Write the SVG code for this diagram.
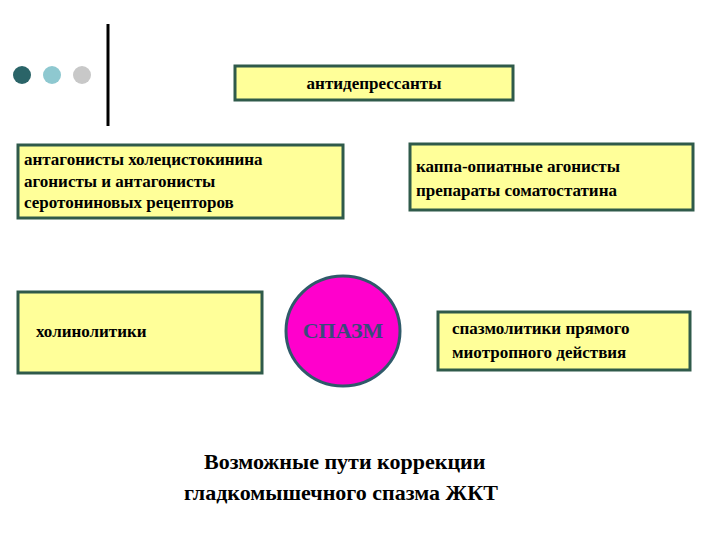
<svg xmlns="http://www.w3.org/2000/svg" width="720" height="540" viewBox="0 0 720 540">
<style>
.b{fill:#ffff99;stroke:#2f5a4a;stroke-width:3}
.t{font-family:"Liberation Serif","DejaVu Serif","Times New Roman",serif;font-weight:bold;font-size:17px;fill:#000}
.c{font-family:"Liberation Serif","DejaVu Serif","Times New Roman",serif;font-weight:bold;font-size:22px;fill:#000}
</style>
<rect width="720" height="540" fill="#fff"/>
<g id="deco">
<circle cx="22" cy="75" r="9" fill="#2a6468"/>
<circle cx="52" cy="75" r="9" fill="#8ec8d0"/>
<circle cx="82" cy="75" r="9" fill="#c8c8c8"/>
<line x1="108" y1="24" x2="108" y2="126" stroke="#000" stroke-width="3"/>
</g>
<g id="antidep"><rect class="b" x="235" y="66" width="278" height="34"/><text class="t" x="374" y="89" text-anchor="middle">антидепрессанты</text></g>
<g id="antag"><rect class="b" x="18" y="145" width="325" height="73"/>
<text class="t" x="24" y="165">антагонисты холецистокинина</text>
<text class="t" x="24" y="187">агонисты и антагонисты</text>
<text class="t" x="24" y="208">серотониновых рецепторов</text></g>
<g id="kappa"><rect class="b" x="410" y="144" width="283" height="66"/>
<text class="t" x="416" y="172">каппа-опиатные агонисты</text>
<text class="t" x="416" y="196">препараты соматостатина</text></g>
<g id="cholino"><rect class="b" x="18" y="292" width="244" height="81"/>
<text class="t" x="36" y="337">холинолитики</text></g>
<g id="spasm"><ellipse cx="343" cy="331" rx="57" ry="55" fill="#ff00cc" stroke="#2f5a6a" stroke-width="3"/>
<text x="343" y="338" text-anchor="middle" font-family="'Liberation Serif','DejaVu Serif',serif" font-weight="bold" font-size="22" fill="#3a4a7a">СПАЗМ</text></g>
<g id="spasmol"><rect class="b" x="438" y="312" width="252" height="58"/>
<text class="t" x="452" y="334">спазмолитики прямого</text>
<text class="t" x="452" y="358">миотропного действия</text></g>
<g id="connectors"></g>
<g id="caption">
<text class="c" x="204" y="469">Возможные пути коррекции</text>
<text class="c" x="184" y="500">гладкомышечного спазма ЖКТ</text>
</g>
</svg>
